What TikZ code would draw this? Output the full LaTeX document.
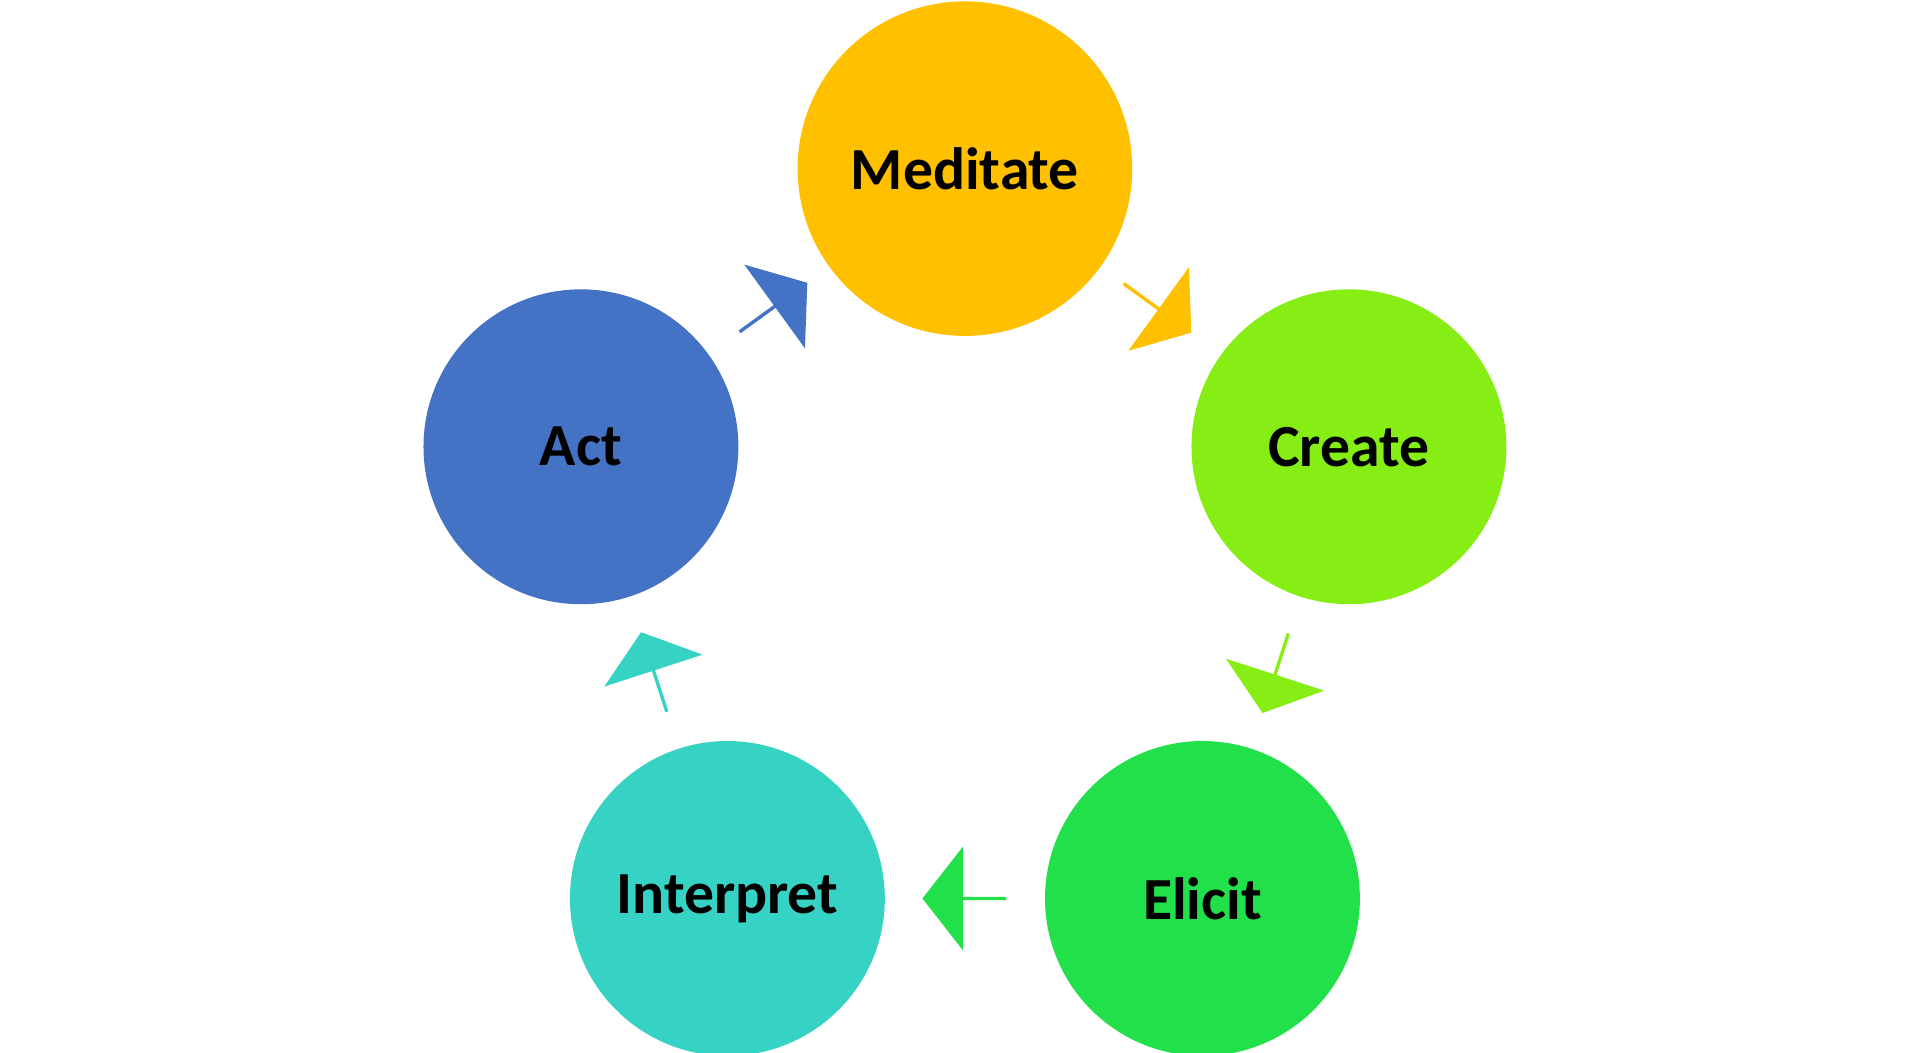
\documentclass[tikz,border=0pt]{standalone}
\usepackage{fontspec}
\setmainfont{Carlito}
\usetikzlibrary{shapes.arrows,calc}
\definecolor{medc}{HTML}{FFC000}
\definecolor{crec}{HTML}{86EE14}
\definecolor{elic}{HTML}{22E04A}
\definecolor{intc}{HTML}{36D3C5}
\definecolor{actc}{HTML}{4472C4}
\tikzset{
  step/.style={circle,minimum size=#1*0.024616cm,inner sep=0pt,font=\fontsize{17}{20}\selectfont\bfseries},
  flow/.style={single arrow,draw=none,fill=#1,inner sep=0pt,minimum height=0.837cm,
    minimum width=1.034cm,single arrow head extend=0.209cm,single arrow tip angle=104}
}
\begin{document}
\begin{tikzpicture}[x=0.012308cm,y=-0.012308cm]
  \useasboundingbox (0,0) rectangle (1560,855);
  % stages
  \node[step=136,fill=medc] (med) at (784,137) {Meditate};
  \node[step=128,fill=crec] (cre) at (1096,363) {Create};
  \node[step=128,fill=elic] (eli) at (977,730) {Elicit};
  \node[step=128,fill=intc] (int) at (591,730) {Interpret};
  \node[step=128,fill=actc] (act) at (472,363) {Act};
  % arrows between stages
  \foreach \a/\b/\c in {med/cre/medc, cre/eli/crec, eli/int/elic, int/act/intc, act/med/actc}{
    \path let \p1=($(\b)-(\a)$), \n1={atan2(\y1,\x1)} in
      node[flow=\c,rotate=\n1] (\a-\b) at ($(\a)!0.5!(\b)$) {};
  }
\end{tikzpicture}
\end{document}
